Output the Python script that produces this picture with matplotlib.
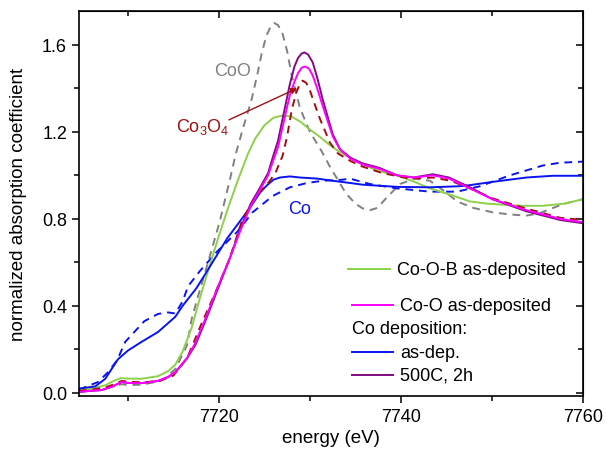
import matplotlib
matplotlib.use("Agg")
import matplotlib.pyplot as plt
from matplotlib.ticker import MultipleLocator, FormatStrFormatter

plt.rcParams['font.family'] = ['Liberation Sans', 'DejaVu Sans']
plt.rcParams['mathtext.fontset'] = 'custom'
plt.rcParams['mathtext.rm'] = 'Liberation Sans'
plt.rcParams['font.size'] = 13

# Co-O-B as-deposited (green)
e_cob = [7704.6, 7706, 7707.5, 7708.4, 7709.2, 7710, 7711.5, 7713.3, 7714.4, 7715.2,
         7716, 7717, 7718, 7718.8, 7719.9, 7721, 7722.1, 7723.2, 7724, 7725,
         7726, 7727, 7728, 7729, 7730, 7731, 7732, 7733, 7734, 7735.8,
         7737.5, 7739.6, 7741.5, 7743.2, 7745.5, 7747.6, 7749.5, 7751.2, 7753.5, 7755.6,
         7758, 7760]
mu_cob = [0.01, 0.02, 0.035, 0.055, 0.068, 0.066, 0.065, 0.077, 0.10, 0.13,
          0.19, 0.30, 0.45, 0.56, 0.71, 0.85, 0.98, 1.10, 1.17, 1.23,
          1.265, 1.275, 1.27, 1.245, 1.21, 1.18, 1.145, 1.115, 1.09, 1.05,
          1.02, 1.0, 0.97, 0.94, 0.91, 0.88, 0.87, 0.865, 0.86, 0.86,
          0.87, 0.89]

# Co-O as-deposited (magenta)
e_coo = [7704.6, 7706, 7707.1, 7708.3, 7709.3, 7710, 7711.5, 7713.3, 7714.4, 7715.2,
         7716.5, 7717.4, 7718.5, 7719.8, 7721.2, 7722.3, 7723.5, 7724.2, 7725.4, 7725.9,
         7726.5, 7727.2, 7727.8, 7728.3, 7728.7, 7729.1, 7729.5, 7729.9, 7730.3, 7730.8,
         7731.4, 7732.5, 7733.3, 7734.5, 7735.8, 7737.6, 7739.6, 7741.4, 7743.5, 7745.3,
         7747.6, 7750.1, 7753.8, 7757.5, 7760]
mu_coo = [0.005, 0.01, 0.013, 0.03, 0.05, 0.046, 0.045, 0.055, 0.073, 0.095,
          0.16, 0.23, 0.34, 0.48, 0.62, 0.74, 0.86, 0.91, 1.0, 1.06,
          1.13, 1.26, 1.37, 1.43, 1.47, 1.495, 1.50, 1.49, 1.46, 1.40,
          1.32, 1.18, 1.12, 1.075, 1.05, 1.03, 1.0, 0.99, 1.0, 0.985,
          0.94, 0.89, 0.84, 0.80, 0.785]

# Co deposition, as-dep. (blue solid)
e_asdep = [7704.6, 7706.4, 7707.5, 7708.2, 7708.9, 7710, 7711.5, 7713.3, 7715.2, 7716,
           7717.5, 7718.7, 7720.9, 7723.4, 7724.5, 7725.3, 7726, 7726.7, 7727.8, 7728.9,
           7730.8, 7732.5, 7734.4, 7735.8, 7739.6, 7743.2, 7746.5, 7747.6, 7750.1, 7753.8,
           7756.7, 7760]
mu_asdep = [0.02, 0.03, 0.065, 0.11, 0.155, 0.195, 0.235, 0.28, 0.35, 0.40,
            0.48, 0.56, 0.71, 0.85, 0.92, 0.955, 0.98, 0.99, 0.995, 0.99,
            0.985, 0.975, 0.965, 0.957, 0.947, 0.945, 0.95, 0.955, 0.97, 0.99,
            0.998, 0.998]

# Co deposition, 500C 2h (purple)
e_500 = [7704.6, 7706, 7707.1, 7708.3, 7709.3, 7710, 7711.5, 7713.3, 7714.4, 7715.2,
         7716.5, 7717.4, 7718.5, 7719.8, 7721.2, 7722.3, 7723.5, 7724.2, 7725.4, 7725.9,
         7726.5, 7727.2, 7727.8, 7728.3, 7728.7, 7729.1, 7729.4, 7729.8, 7730.3, 7730.8,
         7731.4, 7732.5, 7733.3, 7734.5, 7735.8, 7737.6, 7739.6, 7741.4, 7743.5, 7745.3,
         7747.6, 7750.1, 7753.8, 7757.5, 7760]
mu_500 = [0.005, 0.01, 0.013, 0.03, 0.05, 0.046, 0.045, 0.055, 0.073, 0.095,
          0.16, 0.22, 0.33, 0.47, 0.62, 0.75, 0.87, 0.92, 1.01, 1.08,
          1.16, 1.30, 1.42, 1.50, 1.54, 1.56, 1.565, 1.555, 1.52, 1.45,
          1.35, 1.19, 1.12, 1.08, 1.055, 1.035, 1.0, 0.99, 1.005, 0.99,
          0.945, 0.89, 0.835, 0.795, 0.78]

# Co3O4 reference (dark red dashed)
e_co3o4 = [7704.6, 7706, 7707.5, 7708.5, 7709.3, 7710.5, 7712, 7713.5, 7715, 7716.5,
           7718, 7719.8, 7721.2, 7722.6, 7724.2, 7725.5, 7726.2, 7727, 7727.5, 7728,
           7728.5, 7728.9, 7729.2, 7729.6, 7730, 7730.5, 7731.1, 7732.2, 7733.1, 7734.5,
           7735.8, 7738, 7741, 7743.5, 7745.5, 7747.6, 7750, 7754, 7757.5, 7760]
mu_co3o4 = [0.01, 0.015, 0.025, 0.04, 0.055, 0.05, 0.05, 0.055, 0.08, 0.16,
            0.31, 0.48, 0.62, 0.80, 0.91, 0.97, 1.01, 1.09, 1.18, 1.30,
            1.38, 1.42, 1.435, 1.425, 1.39, 1.33, 1.26, 1.15, 1.10, 1.065,
            1.04, 1.01, 0.985, 0.99, 0.975, 0.94, 0.895, 0.845, 0.805, 0.795]

# CoO reference (gray dashed)
e_coo_ref = [7704.6, 7706, 7707.5, 7708.5, 7709.3, 7710, 7711.5, 7713, 7714, 7715.2,
             7716.5, 7717, 7717.6, 7718.8, 7720.1, 7721.2, 7721.8, 7722.6, 7723.6, 7724.2,
             7724.7, 7725.2, 7725.7, 7726.1, 7726.5, 7727, 7727.5, 7728, 7728.9, 7730,
             7731.3, 7732.2, 7733.2, 7734, 7735, 7735.8, 7736.6, 7737.4, 7738.5, 7739.9,
             7741.5, 7743.2, 7744.7, 7746.2, 7748, 7750.1, 7752, 7753.8, 7755.2, 7756.4,
             7758, 7760]
mu_coo_ref = [0.005, 0.01, 0.02, 0.03, 0.04, 0.036, 0.038, 0.05, 0.065, 0.11,
              0.22, 0.34, 0.43, 0.60, 0.79, 0.98, 1.09, 1.21, 1.35, 1.46,
              1.56, 1.64, 1.685, 1.70, 1.69, 1.65, 1.57, 1.46, 1.31, 1.20,
              1.11, 1.04, 0.97, 0.915, 0.87, 0.848, 0.84, 0.85, 0.90, 0.96,
              0.985, 0.975, 0.93, 0.88, 0.85, 0.83, 0.82, 0.815, 0.825, 0.845,
              0.87, 0.89]

# Co reference (blue dashed)
e_co_ref = [7704.6, 7705.3, 7706.7, 7707.8, 7708.8, 7709.7, 7710.8, 7711.8, 7713.3, 7714.4,
            7715.2, 7716, 7716.6, 7717.9, 7719.8, 7722, 7723.7, 7725.9, 7727.8, 7729.7,
            7731.4, 7733.6, 7734.4, 7736.6, 7739.6, 7743.2, 7746.2, 7748.7, 7752, 7755.6,
            7757.5, 7760]
mu_co_ref = [0.015, 0.027, 0.05, 0.095, 0.15, 0.235, 0.285, 0.33, 0.363, 0.37,
             0.365, 0.42, 0.49, 0.56, 0.65, 0.74, 0.83, 0.905, 0.945, 0.965,
             0.975, 0.98, 0.985, 0.96, 0.94, 0.925, 0.925, 0.95, 1.0, 1.045,
             1.058, 1.063]

GREEN = '#8dd04a'
MAGENTA = '#ff00ff'
BLUE = '#0a14f0'
PURPLE = '#820a82'
DARKRED = '#a01010'
GRAY = '#808080'

fig = plt.figure(figsize=(6.07, 4.64), dpi=100)
ax = fig.add_axes([0.130, 0.144, 0.830, 0.830])

lw = 1.4
ax.plot(e_coo_ref, mu_coo_ref, color=GRAY, lw=lw, dashes=(4, 3))
ax.plot(e_co_ref, mu_co_ref, color=BLUE, lw=lw, dashes=(4, 3))
ax.plot(e_cob, mu_cob, color=GREEN, lw=lw)
ax.plot(e_asdep, mu_asdep, color=BLUE, lw=lw)
ax.plot(e_500, mu_500, color=PURPLE, lw=lw)
ax.plot(e_co3o4, mu_co3o4, color=DARKRED, lw=lw, dashes=(4, 3))
ax.plot(e_coo, mu_coo, color=MAGENTA, lw=lw)

ax.set_xlim(7704.6, 7760)
ax.set_ylim(-0.015, 1.755)
ax.xaxis.set_major_locator(MultipleLocator(20))
ax.xaxis.set_minor_locator(MultipleLocator(10))
ax.yaxis.set_major_locator(MultipleLocator(0.4))
ax.yaxis.set_minor_locator(MultipleLocator(0.2))
ax.yaxis.set_major_formatter(FormatStrFormatter('%.1f'))
ax.tick_params(which='both', direction='out', width=1.1, labelsize=13)
ax.tick_params(which='major', length=5)
ax.tick_params(which='minor', length=3.5)
for s in ax.spines.values():
    s.set_linewidth(1.2)

# mirrored inward ticks on top and right
top = ax.secondary_xaxis('top')
top.xaxis.set_major_locator(MultipleLocator(20))
top.xaxis.set_minor_locator(MultipleLocator(10))
top.tick_params(which='both', direction='in', width=1.1, labeltop=False)
top.tick_params(which='major', length=5)
top.tick_params(which='minor', length=3.5)
right = ax.secondary_yaxis('right')
right.yaxis.set_major_locator(MultipleLocator(0.4))
right.yaxis.set_minor_locator(MultipleLocator(0.2))
right.tick_params(which='both', direction='in', width=1.1, labelright=False)
right.tick_params(which='major', length=5)
right.tick_params(which='minor', length=3.5)

ax.set_xlabel('energy (eV)', fontsize=13.5, labelpad=3)
ax.set_ylabel('normalized absorption coefficient', fontsize=13.5, labelpad=11)

# curve labels
ax.text(7721.5, 1.48, 'CoO', color=GRAY, fontsize=13, ha='center', va='center')
ax.text(7718.2, 1.225, r'Co$_\mathregular{3}$O$_\mathregular{4}$', color=DARKRED,
        fontsize=13, ha='center', va='center')
ax.annotate('', xy=(7728.6, 1.40), xytext=(7721.1, 1.255),
            arrowprops=dict(arrowstyle='-|>', color=DARKRED, lw=1.0,
                            mutation_scale=9, shrinkA=0, shrinkB=0))
ax.text(7728.9, 0.846, 'Co', color=BLUE, fontsize=13, ha='center', va='center')

# legend drawn by hand to keep the original spacing
leg = [
    (0.330, GREEN, 'Co-O-B as-deposited', 0.534, 0.617, 0.631),
    (0.236, MAGENTA, 'Co-O as-deposited', 0.542, 0.623, 0.637),
    (0.114, BLUE, 'as-dep.', 0.542, 0.623, 0.637),
    (0.055, PURPLE, '500C, 2h', 0.542, 0.623, 0.637),
]
for yy, c, lab, x0, x1, xt in leg:
    ax.plot([x0, x1], [yy, yy], color=c, lw=lw, transform=ax.transAxes)
    ax.text(xt, yy, lab, transform=ax.transAxes, fontsize=13, va='center', ha='left')
ax.text(0.542, 0.175, 'Co deposition:', transform=ax.transAxes, fontsize=13,
        va='center', ha='left')

fig.savefig('out.png', dpi=100)
